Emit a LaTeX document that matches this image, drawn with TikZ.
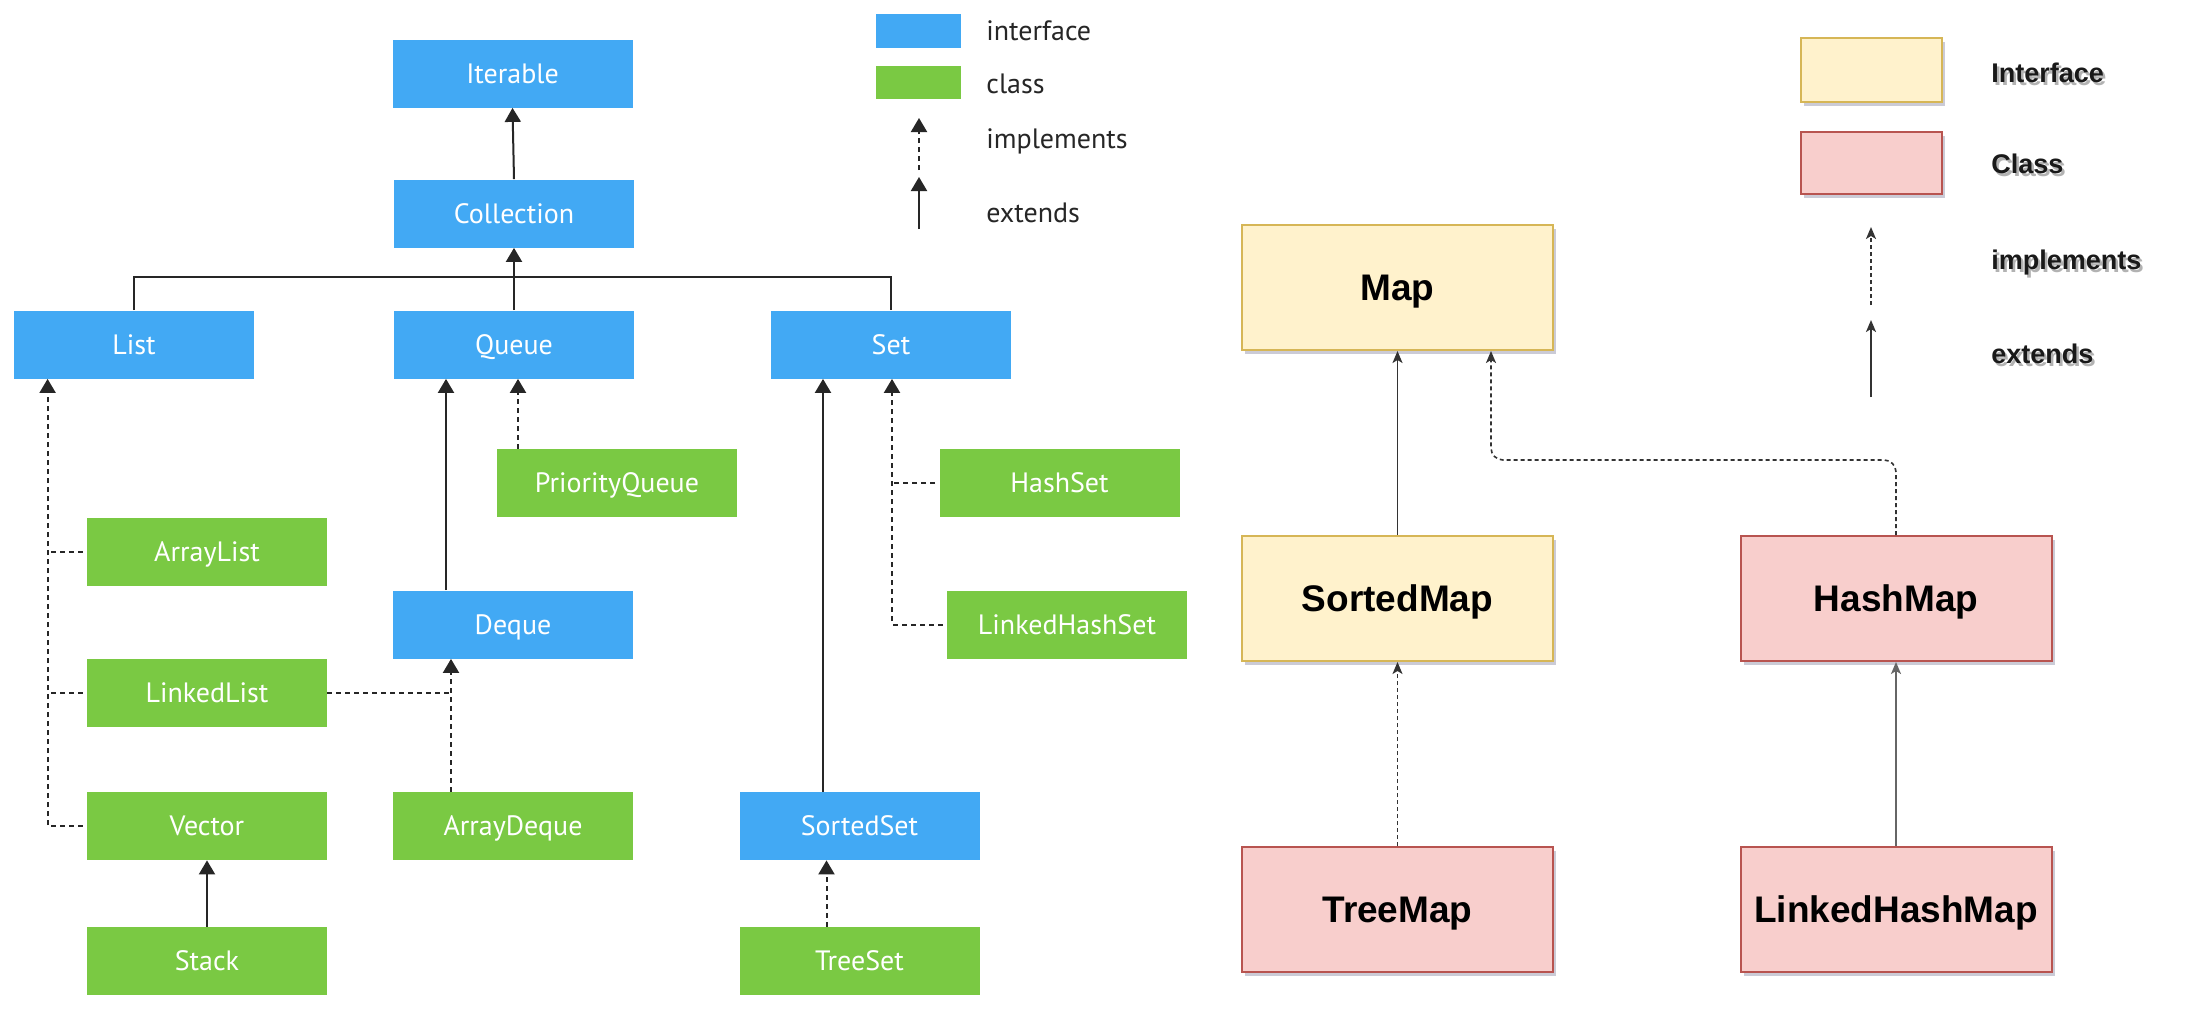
\documentclass[tikz,border=0pt]{standalone}
\usepackage{fontspec}
\setmainfont{Liberation Sans}
\newfontfamily\ptsans{PT Sans}
\usetikzlibrary{arrows.meta,calc,shadows}

\definecolor{ifblue}{HTML}{42A9F4}
\definecolor{clgreen}{HTML}{7AC943}
\definecolor{mapif}{HTML}{FFF2CC}
\definecolor{mapifline}{HTML}{D6B656}
\definecolor{mapcl}{HTML}{F8CECC}
\definecolor{mapclline}{HTML}{B85450}
\definecolor{boxshade}{HTML}{8C8CA6}

% soft offset copy behind a label
\newcommand{\shtext}[1]{\makebox[0pt][l]{\hspace{1.2pt}\raisebox{-1.5pt}{\textcolor{black!30}{#1}}}#1}

\tikzset{
  jbox/.style={inner sep=0pt, minimum width=120pt, minimum height=34pt,
    text height=9.8pt, text depth=0pt,
    font=\ptsans\fontsize{14pt}{16pt}\selectfont, text=white},
  jif/.style={jbox, fill=ifblue},
  jcl/.style={jbox, fill=clgreen},
  jline/.style={line width=1pt, draw=black!85},
  jext/.style={jline, -{Triangle[width=8pt,length=7pt]}},
  jimpl/.style={jline, dash pattern=on 2.5pt off 2pt},
  jimplarr/.style={jimpl, -{Triangle[width=8pt,length=7pt]}},
  jlegend/.style={anchor=base west, inner sep=0pt,
    font=\ptsans\fontsize{14pt}{16pt}\selectfont, text=black!85},
  mbox/.style={inner sep=0pt, minimum width=155.5pt, minimum height=62.5pt,
    line width=1pt, text height=13.2pt, text depth=0pt,
    font=\bfseries\fontsize{18.5pt}{22pt}\selectfont,
    drop shadow={shadow xshift=1.5pt, shadow yshift=-2pt, fill=boxshade, opacity=.45}},
  mif/.style={mbox, fill=mapif, draw=mapifline},
  mcl/.style={mbox, fill=mapcl, draw=mapclline},
  mext/.style={line width=0.8pt, draw=black!80, -{Stealth[width=5pt,length=6pt,inset=1.5pt]}},
  mimpl/.style={mext, dash pattern=on 2pt off 1.5pt},
  mlegend/.style={anchor=base west, inner sep=0pt,
    font=\bfseries\fontsize{13.5pt}{16pt}\selectfont, text=black!90},
}

\begin{document}
\begin{tikzpicture}[x=0.5pt, y=-0.5pt]
\useasboundingbox[fill=white] (0,0) rectangle (2202,1012);

% ---------- Collection hierarchy ----------
\node[jif] (iterable)   at (512.5,73.5) {Iterable};
\node[jif] (collection) at (514,213.5)  {Collection};
\node[jif] (list)       at (134,344.5)  {List};
\node[jif] (queue)      at (514,344.5)  {Queue};
\node[jif] (set)        at (891,344.5)  {Set};
\node[jcl] (pq)         at (617,483)    {PriorityQueue};
\node[jcl] (arraylist)  at (207,552)    {ArrayList};
\node[jif] (deque)      at (513,624.5)  {Deque};
\node[jcl] (linkedlist) at (207,693)    {LinkedList};
\node[jcl] (vector)     at (207,826)    {Vector};
\node[jcl] (arraydeque) at (513,826)    {ArrayDeque};
\node[jcl] (stack)      at (207,961)    {Stack};
\node[jcl] (hashset)    at (1059.5,483) {HashSet};
\node[jcl] (lhs)        at (1067,624.5) {LinkedHashSet};
\node[jif] (sortedset)  at (859.5,826)  {SortedSet};
\node[jcl] (treeset)    at (859.5,961)  {TreeSet};

\draw[jext] (collection.north) -- (iterable.south);
\coordinate (bus) at (514,277);
\draw[jline] (list.north) |- (bus) -| (set.north);
\draw[jext] (queue.north) -- (collection.south);

% List implementations
\coordinate (ltip) at ($(list.south west)+(34,0)$);
\draw[jimplarr, shorten <=2pt] (vector.west) -| (ltip);
\draw[jimpl, shorten <=2pt] (arraylist.west) -- (arraylist.west -| ltip);
\draw[jimpl, shorten <=2pt] (linkedlist.west) -- (linkedlist.west -| ltip);
\draw[jext] (stack.north) -- (vector.south);

% Queue side
\coordinate (qx) at ($(queue.south)+(-68,0)$);
\draw[jext] (deque.north -| qx) -- (qx);
\coordinate (pqtip) at ($(queue.south)+(4,0)$);
\draw[jimplarr] (pq.north -| pqtip) -- (pqtip);
\coordinate (dqtip) at ($(deque.south)+(-62,0)$);
\draw[jimplarr] (arraydeque.north -| dqtip) -- (dqtip);
\draw[jimpl] (linkedlist.east) -- (linkedlist.east -| dqtip);

% Set side
\coordinate (setext) at ($(set.south)+(-68,0)$);
\draw[jext] (sortedset.north -| setext) -- (setext);
\coordinate (setimp) at ($(set.south)+(1,0)$);
\draw[jimplarr, shorten <=2pt] (lhs.west) -| (setimp);
\draw[jimpl, shorten <=2pt] (hashset.west) -- (hashset.west -| setimp);
\coordinate (tsx) at ($(sortedset.south)+(-33,0)$);
\draw[jimplarr] (treeset.north -| tsx) -- (tsx);

% legend
\node[fill=ifblue, inner sep=0pt, minimum width=42.5pt, minimum height=17pt] (lblue) at (918.5,31) {};
\node[fill=clgreen, inner sep=0pt, minimum width=42.5pt, minimum height=16.5pt] (lgreen) at (918.5,82.5) {};
\node[jlegend] (lt1) at (986,40)  {interface};
\node[jlegend] (lt2) at (986,93)  {class};
\node[jlegend] (lt3) at (986,148) {implements};
\node[jlegend] (lt4) at (986,222) {extends};
\coordinate (li1) at (919,170); \coordinate (li2) at (919,118);
\coordinate (le1) at (919,229); \coordinate (le2) at (919,177);
\draw[jimplarr] (li1) -- (li2);
\draw[jext] (le1) -- (le2);

% ---------- Map hierarchy ----------
\node[mif] (map)       at (1397.5,287.5) {Map};
\node[mif] (sortedmap) at (1397.5,598.5) {SortedMap};
\node[mcl] (hashmap)   at (1896,598.5)   {HashMap};
\node[mcl] (treemap)   at (1397.5,909.5) {TreeMap};
\node[mcl] (lhm)       at (1896,909.5)   {LinkedHashMap};

\draw[mext] (sortedmap.north) -- (map.south);
\coordinate (mapimp) at ($(map.south)+(93.5,0)$);
\coordinate (mapturn) at ($(mapimp)+(0,109)$);
\draw[mimpl, rounded corners=6pt] (hashmap.north) |- (mapturn) -- (mapimp);
\draw[mimpl] (treemap.north) -- (sortedmap.south);
\draw[mext, draw=black!60] (lhm.north) -- (hashmap.south);

% legend
\node[mif, minimum width=70.5pt, minimum height=32pt] (lyel) at (1871.5,70) {};
\node[mcl, minimum width=70.5pt, minimum height=31pt] (lpink) at (1871.5,163) {};
\node[mlegend] (rt1) at (1991,83)  {\shtext{Interface}};
\node[mlegend] (rt2) at (1991,173) {\shtext{Class}};
\node[mlegend] (rt3) at (1991,269) {\shtext{implements}};
\node[mlegend] (rt4) at (1991,363) {\shtext{extends}};
\coordinate (ri1) at (1871,305); \coordinate (ri2) at (1871,227);
\coordinate (re1) at (1871,397); \coordinate (re2) at (1871,320);
\draw[mimpl] (ri1) -- (ri2);
\draw[mext] (re1) -- (re2);
\end{tikzpicture}
\end{document}
